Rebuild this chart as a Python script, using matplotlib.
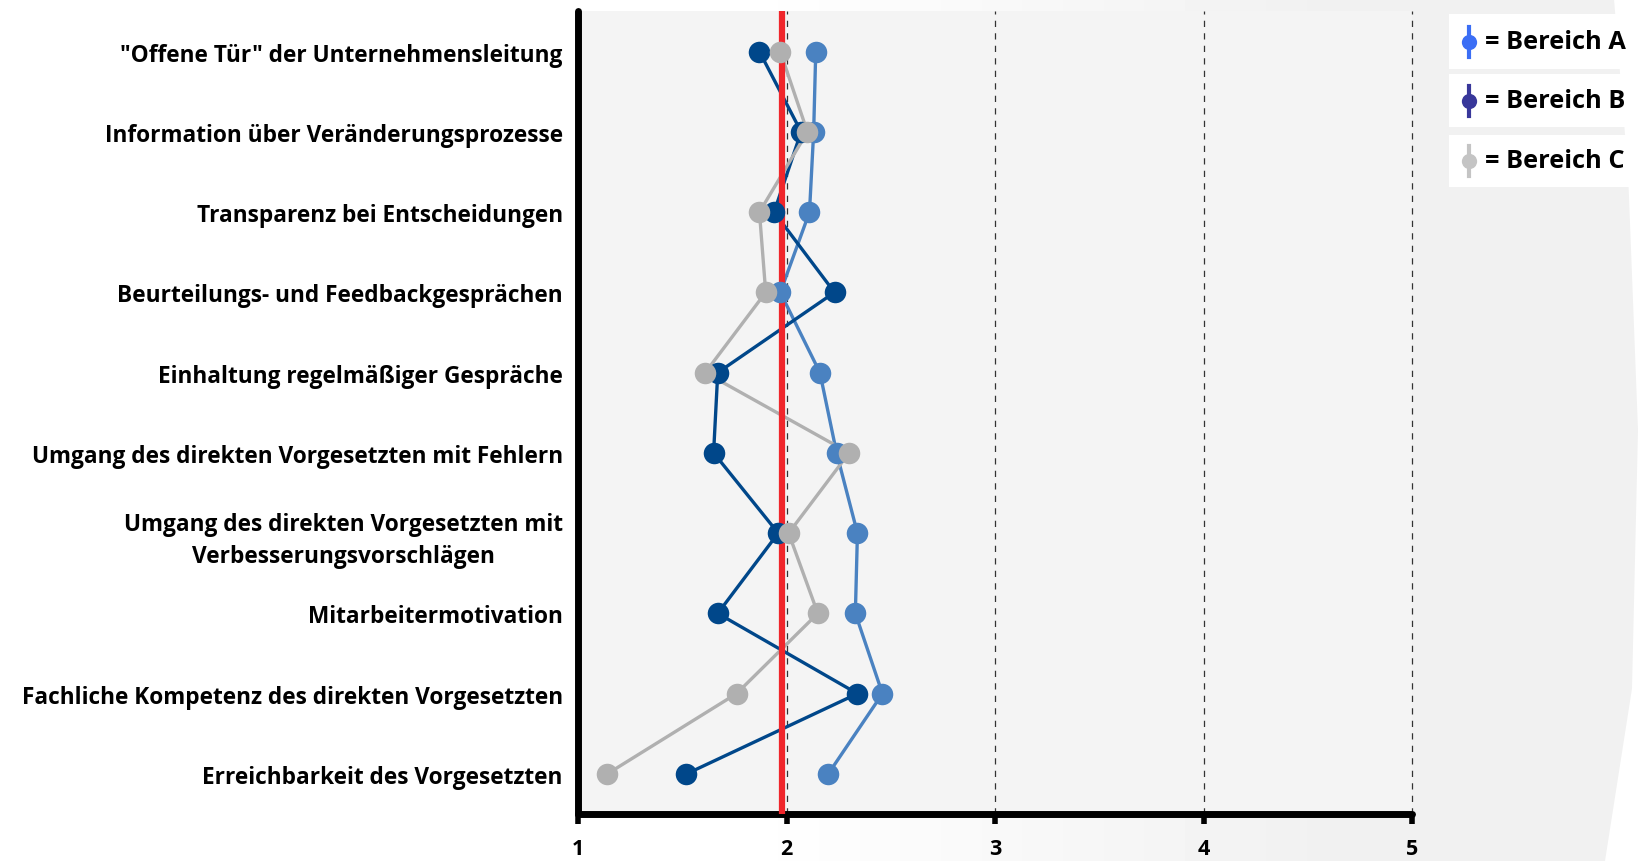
import numpy as np
import matplotlib.pyplot as plt
from matplotlib.lines import Line2D
from matplotlib.patches import Rectangle, Polygon

plt.rcParams['font.family'] = ['Open Sans', 'DejaVu Sans']

kategorien = [
    '"Offene Tür" der Unternehmensleitung',
    'Information über Veränderungsprozesse',
    'Transparenz bei Entscheidungen',
    'Beurteilungs- und Feedbackgesprächen',
    'Einhaltung regelmäßiger Gespräche',
    'Umgang des direkten Vorgesetzten mit Fehlern',
    'Umgang des direkten Vorgesetzten mit\nVerbesserungsvorschlägen',
    'Mitarbeitermotivation',
    'Fachliche Kompetenz des direkten Vorgesetzten',
    'Erreichbarkeit des Vorgesetzten',
]
bereich_a = [2.14, 2.13, 2.11, 1.97, 2.16, 2.24, 2.34, 2.33, 2.46, 2.20]
bereich_b = [1.87, 2.07, 1.94, 2.23, 1.67, 1.65, 1.96, 1.67, 2.34, 1.52]
bereich_c = [1.97, 2.10, 1.87, 1.90, 1.61, 2.30, 2.01, 2.15, 1.76, 1.14]
mittelwert = 1.98
xticks = [1, 2, 3, 4, 5]
legende = ['= Bereich A', '= Bereich B', '= Bereich C']

farben = ['#4a82c1', '#00478a', '#b0b0b0']
leg_farben = ['#3b6ef5', '#38379a', '#c4c4c4']

W, H = 1639, 862
fig = plt.figure(figsize=(W / 100, H / 100), dpi=100, facecolor='white')

# Hintergrund: weiß links, nach rechts leicht grau
bg = fig.add_axes([0, 0, 1, 1], zorder=-10)
grad = np.clip((np.linspace(0, 1, 400) - 0.45) / 0.35, 0, 1)
grau = 1 - 0.055 * grad
bg.imshow(np.tile(grau, (2, 1)), cmap='gray', vmin=0, vmax=1, aspect='auto',
          extent=[0, 1, 0, 1], interpolation='bilinear')
bg.add_patch(Polygon([(1614 / W, 1), (1, 1), (1, 0), (1605 / W, 0), (1632 / W, 0.2),
                      (1638 / W, 0.5), (1628 / W, 0.8)], closed=True,
                     facecolor='white', edgecolor='none'))
bg.set_xlim(0, 1)
bg.set_ylim(0, 1)
bg.axis('off')

ax = fig.add_axes([0.3527, 0.0545, 0.5088, 0.931])
ax.set_facecolor('#f4f4f4')

y = list(range(len(kategorien)))
serien = [bereich_a, bereich_b, bereich_c]
for werte, farbe in zip(serien, farben):
    ax.plot(werte, y, color=farbe, lw=2.4, zorder=2, solid_capstyle='round')
ax.axvline(mittelwert, color='#f0262b', lw=4.5, zorder=3, solid_capstyle='round')
for i, (werte, farbe) in enumerate(zip(serien, farben)):
    ax.plot(werte, y, ls='none', marker='o', ms=15.5, color=farbe,
            markeredgewidth=0, zorder=4 + i)

for xv in xticks[1:]:
    ax.axvline(xv, color='#333333', lw=0.9, ls=(0, (5, 5)), zorder=1, clip_on=False)

ax.set_xlim(1, 5)
ax.set_ylim(len(kategorien) - 0.5, -0.5)
ax.set_yticks(y)
ax.set_yticklabels(kategorien, fontsize=16.3, fontweight='bold',
                   multialignment='center', linespacing=1.45)
ax.set_xticks(xticks)
ax.set_xticklabels([str(t) for t in xticks], fontsize=15.5, fontweight='bold')
ax.tick_params(axis='y', length=0, pad=11)
ax.tick_params(axis='x', length=7, width=4, direction='out', pad=10)
for s in ['top', 'right']:
    ax.spines[s].set_visible(False)
for s in ['left', 'bottom']:
    ax.spines[s].set_linewidth(5)
    ax.spines[s].set_capstyle('round')

# Legende als drei weiße Kästchen
boxen = [(15, 70), (75, 128), (136, 188)]
for (top, bot), text, farbe in zip(boxen, legende, leg_farben):
    x0, x1 = 1449 / W, 1637 / W
    y0, y1 = 1 - bot / H, 1 - top / H
    fig.patches.append(Rectangle((x0, y0), x1 - x0, y1 - y0, transform=fig.transFigure,
                                 facecolor='white', edgecolor='none', zorder=1))
    yc = (y0 + y1) / 2
    xm = 1469 / W
    fig.lines.append(Line2D([xm, xm], [yc - 15 / H, yc + 15 / H], transform=fig.transFigure,
                            color=farbe, lw=3, zorder=2))
    fig.lines.append(Line2D([xm], [yc], transform=fig.transFigure, marker='o', ms=11,
                            color=farbe, markeredgewidth=0, zorder=3))
    fig.text(1485 / W, yc, text, fontsize=18.3, fontweight='bold', va='center', ha='left')

fig.savefig('out.png', dpi=100, facecolor='white')
